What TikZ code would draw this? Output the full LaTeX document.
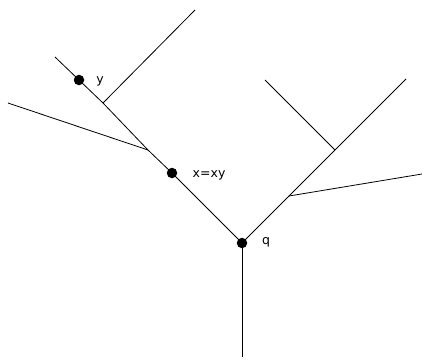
\documentclass[tikz,border=0pt]{standalone}
\usepackage{fontspec}
\setmainfont{DejaVu Sans}
\usepackage{tikz}

\begin{document}
\begin{tikzpicture}[x=1pt, y=-1pt, line width=0.8pt,
	every node/.style={font=\fontsize{12.5}{14}\selectfont},
	vertex/.style={circle, fill, inner sep=0pt, minimum size=10.5pt}]
	\useasboundingbox (0,0) rectangle (422,359);
	% points of the tree
	\coordinate (tl) at (55,57);
	\coordinate (tr) at (406,79);
	\coordinate (bl) at (103,103);
	\coordinate (cl) at (148,150);
	\coordinate (br) at (335,150);
	\coordinate (cr) at (289,196);
	\coordinate (root) at (242,357);
	\coordinate (bl end) at (195,10);
	\coordinate (cl end) at (8,103);
	\coordinate (br end) at (265,80);
	\coordinate (cr end) at (422,174);
	\node[vertex] (y) at (79,80) {};
	\node[vertex] (xy) at (172,173) {};
	\node[vertex] (q) at (242,243) {};
	% branches
	\draw (tl) -- (y.center) -- (bl) -- (cl) -- (xy.center) -- (q.center) -- (cr) -- (br) -- (tr);
	\draw (q.center) -- (root);
	\draw (bl) -- (bl end);
	\draw (cl) -- (cl end);
	\draw (br) -- (br end);
	\draw (cr) -- (cr end);
	% labels
	\node[anchor=base] at (100,83) {y};
	\node[anchor=base west] at (189,177) {x=xy};
	\node[anchor=base] at (266,244) {q};
\end{tikzpicture}
\end{document}
